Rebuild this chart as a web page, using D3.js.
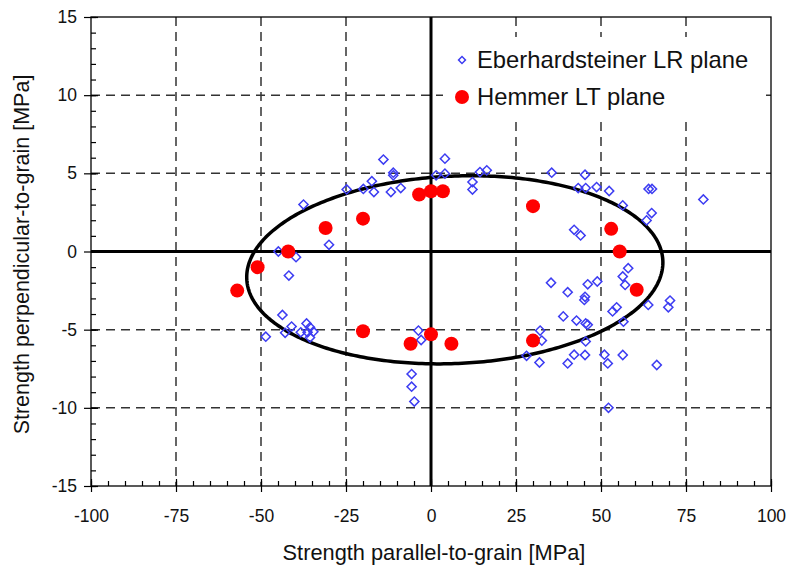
<!DOCTYPE html>
<html>
<head>
<meta charset="utf-8">
<script src="https://cdn.jsdelivr.net/npm/d3@7"></script>
<style>
  html, body { margin: 0; padding: 0; background: #fff; }
  svg { display: block; }
  text { font-family: "Liberation Sans", Arial, sans-serif; fill: #111; }
</style>
</head>
<body>
<svg id="chart" width="791" height="571"></svg>
<script>
// Axis ranges and ticks (MPa)
const xDomain = [-100, 100];
const yDomain = [-15, 15];
const xMajorTicks = [-100, -75, -50, -25, 0, 25, 50, 75, 100];
const yMajorTicks = [-15, -10, -5, 0, 5, 10, 15];
const xMinorStep = 5;
const yMinorStep = 1;

// Eberhardsteiner, LR plane: [parallel, perpendicular] strength
const eberhardsteinerLR = [
  [-14.0, 5.88], [-11.1, 5.04], [-11.1, 4.87], [-17.4, 4.5], [-16.8, 3.8],
  [-19.9, 4.0], [-24.8, 3.97], [-11.8, 3.8], [-8.9, 4.06], [4.1, 5.94],
  [4.1, 4.98], [1.5, 4.87], [-37.5, 3.0], [-30.0, 0.43], [-44.9, 0.0],
  [-39.7, -0.36], [-41.8, -1.54],
  [-43.7, -4.06], [-41.0, -4.8], [-42.9, -5.2], [-48.6, -5.45], [-36.6, -4.6],
  [-35.6, -4.85], [-38.3, -5.17], [-36.3, -5.17], [-34.6, -5.13], [-35.6, -5.5],
  [-3.7, -5.06], [-2.9, -5.66], [-5.7, -7.84], [-5.7, -8.65], [-4.9, -9.6],
  [12.2, 4.44], [12.2, 3.96], [14.4, 5.08], [16.4, 5.19], [35.5, 5.04],
  [45.3, 4.91], [43.3, 4.06], [45.5, 4.06], [48.7, 4.12], [52.4, 3.87],
  [42.1, 1.39], [44.0, 1.03],
  [35.3, -2.0], [40.2, -2.6], [46.1, -2.1], [48.9, -1.92], [45.1, -3.1],
  [45.3, -2.9], [38.9, -4.15], [42.8, -4.42], [45.5, -4.6], [46.1, -4.68],
  [32.1, -5.06], [32.6, -5.7], [28.1, -6.67], [31.9, -7.1], [40.2, -7.16],
  [42.1, -6.6], [45.3, -6.62], [45.5, -5.75], [51.0, -6.6], [52.0, -7.16],
  [53.4, -3.83], [52.2, -10.0],
  [64.0, 4.0], [65.0, 4.0], [56.4, 2.95], [64.9, 2.46], [63.4, 1.99],
  [80.1, 3.33], [58.0, -1.07], [56.4, -1.6], [57.1, -2.14],
  [54.6, -3.57], [63.9, -3.42], [56.6, -4.49], [70.3, -3.14], [69.8, -3.57],
  [56.4, -6.62], [66.4, -7.26]
];

// Hemmer, LT plane
const hemmerLT = [
  [-57.0, -2.5], [-51.0, -1.0], [-42.0, 0.0], [-31.0, 1.5], [-20.0, 2.1],
  [-20.0, -5.1], [-6.0, -5.9], [-3.5, 3.65], [0.0, 3.85], [3.5, 3.85],
  [0.0, -5.3], [6.0, -5.9], [30.0, 2.9], [30.0, -5.7], [53.0, 1.45],
  [55.5, 0.0], [60.5, -2.45]
];

// Failure envelope: centre, semi-axes (parallel, perpendicular), shear of the centre line
const envelopeCentre = [7.0, -1.17];
const envelopeSemiAxes = [61.2, 6.0];
const envelopeTilt = 0.0077;

const legendLabels = ["Eberhardsteiner LR plane", "Hemmer LT plane"];
const xTitle = "Strength parallel-to-grain [MPa]";
const yTitle = "Strength perpendicular-to-grain [MPa]";

const blue = "#3d3df2";
const red = "#ff0000";

const svg = d3.select("#chart");
const plot = { left: 91, right: 771, top: 17, bottom: 486 };

const x = d3.scaleLinear().domain(xDomain).range([plot.left, plot.right]);
const y = d3.scaleLinear().domain(yDomain).range([plot.bottom, plot.top]);

// dashed grid
const grid = svg.append("g").attr("stroke", "#333").attr("stroke-width", 1.5)
  .attr("stroke-dasharray", "9,6");
grid.selectAll("line.gx")
  .data(xMajorTicks.filter(v => v !== 0 && v !== xDomain[0] && v !== xDomain[1]))
  .join("line")
  .attr("x1", d => x(d)).attr("x2", d => x(d))
  .attr("y1", plot.top).attr("y2", plot.bottom);
grid.selectAll("line.gy")
  .data(yMajorTicks.filter(v => v !== 0 && v !== yDomain[0] && v !== yDomain[1]))
  .join("line")
  .attr("y1", d => y(d)).attr("y2", d => y(d))
  .attr("x1", plot.left).attr("x2", plot.right);

// zero axes
svg.append("line").attr("x1", x(0)).attr("x2", x(0))
  .attr("y1", plot.top).attr("y2", plot.bottom)
  .attr("stroke", "#000").attr("stroke-width", 3);
svg.append("line").attr("x1", plot.left).attr("x2", plot.right)
  .attr("y1", y(0)).attr("y2", y(0))
  .attr("stroke", "#000").attr("stroke-width", 3);

// frame
svg.append("rect")
  .attr("x", plot.left).attr("y", plot.top)
  .attr("width", plot.right - plot.left).attr("height", plot.bottom - plot.top)
  .attr("fill", "none").attr("stroke", "#000").attr("stroke-width", 1.3);

// axes
const xMinor = d3.range(xDomain[0], xDomain[1] + 0.001, xMinorStep);
const yMinor = d3.range(yDomain[0], yDomain[1] + 0.001, yMinorStep);

function styleAxis(g) {
  g.select(".domain").remove();
  g.selectAll(".tick line").attr("stroke", "#000").attr("stroke-width", 1.2);
  g.selectAll(".tick text").style("font-size", "17.5px").attr("fill", "#111");
}

// bottom: inward minor ticks, crossing major ticks with labels
svg.append("g").attr("transform", `translate(0,${plot.bottom})`)
  .call(d3.axisBottom(x).tickValues(xMinor).tickSize(-5).tickFormat(""))
  .call(styleAxis);
svg.append("g").attr("transform", `translate(0,${plot.bottom})`)
  .call(d3.axisBottom(x).tickValues(xMajorTicks).tickSize(6).tickPadding(18)
    .tickFormat(d3.format("d")))
  .call(styleAxis)
  .call(g => g.selectAll(".tick text").text(d => d < 0 ? "-" + Math.abs(d) : d));
svg.append("g").attr("transform", `translate(0,${plot.bottom})`)
  .call(d3.axisBottom(x).tickValues(xMajorTicks).tickSize(-7).tickFormat(""))
  .call(styleAxis);

// left
svg.append("g").attr("transform", `translate(${plot.left},0)`)
  .call(d3.axisLeft(y).tickValues(yMinor).tickSize(-5).tickFormat(""))
  .call(styleAxis);
svg.append("g").attr("transform", `translate(${plot.left},0)`)
  .call(d3.axisLeft(y).tickValues(yMajorTicks).tickSize(7).tickPadding(7))
  .call(styleAxis)
  .call(g => g.selectAll(".tick text").text(d => d < 0 ? "-" + Math.abs(d) : d));
svg.append("g").attr("transform", `translate(${plot.left},0)`)
  .call(d3.axisLeft(y).tickValues(yMajorTicks).tickSize(-7).tickFormat(""))
  .call(styleAxis);

// failure envelope
const angles = d3.range(0, 2 * Math.PI + 0.001, Math.PI / 180);
const envelope = angles.map(t => {
  const px = envelopeSemiAxes[0] * Math.cos(t);
  return [envelopeCentre[0] + px,
          envelopeCentre[1] + envelopeTilt * px + envelopeSemiAxes[1] * Math.sin(t)];
});
svg.append("path")
  .datum(envelope)
  .attr("d", d3.line().x(d => x(d[0])).y(d => y(d[1])).curve(d3.curveLinearClosed))
  .attr("fill", "none").attr("stroke", "#000").attr("stroke-width", 3.5);

// data points
const diamond = d3.symbol().type(d3.symbolSquare).size(42);
svg.append("g").selectAll("path")
  .data(eberhardsteinerLR)
  .join("path")
  .attr("d", diamond)
  .attr("transform", d => `translate(${x(d[0])},${y(d[1])}) rotate(45)`)
  .attr("fill", "none").attr("stroke", blue).attr("stroke-width", 1.5);

svg.append("g").selectAll("circle")
  .data(hemmerLT)
  .join("circle")
  .attr("cx", d => x(d[0])).attr("cy", d => y(d[1]))
  .attr("r", 7).attr("fill", red);

// legend on a white panel that hides the grid behind it
const legend = svg.append("g");
legend.append("rect")
  .attr("x", 443).attr("y", 37).attr("width", 320).attr("height", 79)
  .attr("fill", "#fff");
legend.append("path")
  .attr("d", d3.symbol().type(d3.symbolSquare).size(24)())
  .attr("transform", "translate(462,60) rotate(45)")
  .attr("fill", "none").attr("stroke", blue).attr("stroke-width", 1.5);
legend.append("circle").attr("cx", 462).attr("cy", 97).attr("r", 7).attr("fill", red);
legend.selectAll("text")
  .data(legendLabels)
  .join("text")
  .attr("x", 477).attr("y", (d, i) => 60 + i * 37)
  .attr("dy", "0.35em")
  .style("font-size", "23.8px")
  .text(d => d);

// axis titles
svg.append("text")
  .attr("x", (plot.left + plot.right) / 2 + 3).attr("y", 560)
  .attr("text-anchor", "middle")
  .style("font-size", "21.8px")
  .text(xTitle);
svg.append("text")
  .attr("transform", `translate(29,${(plot.top + plot.bottom) / 2 + 3}) rotate(-90)`)
  .attr("text-anchor", "middle")
  .style("font-size", "21.5px")
  .text(yTitle);
</script>
</body>
</html>
